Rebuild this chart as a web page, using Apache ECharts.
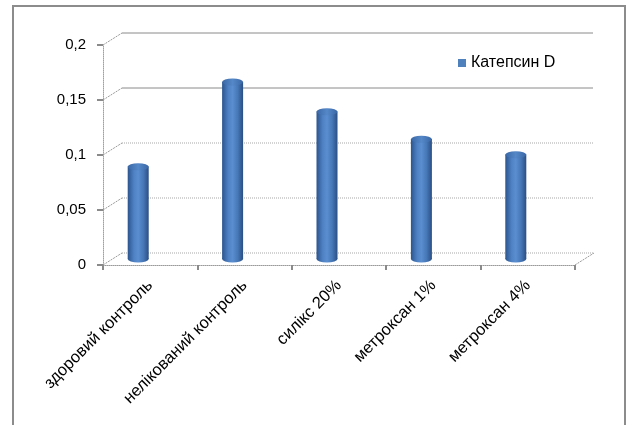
<!DOCTYPE html>
<html><head><meta charset="utf-8">
<script src="https://cdn.jsdelivr.net/npm/echarts@6/dist/echarts.min.js"></script>
<style>html,body{margin:0;padding:0;background:#fff}#c{width:630px;height:425px}</style>
</head><body><div id="c"></div>
<script>
const categories = ['здоровий контроль', 'нелікований контроль', 'силікс 20%', 'метроксан 1%', 'метроксан 4%'];
const values = [0.084, 0.161, 0.134, 0.109, 0.095];
const yTicks = [0, 0.05, 0.1, 0.15, 0.2];
const seriesName = 'Катепсин D';

const FONT = '"Liberation Sans", Arial, sans-serif';
const fmt = v => String(v).replace('.', ',');
const bodyGrad = new echarts.graphic.LinearGradient(0, 0, 1, 0, [
  {offset: 0, color: '#2b558e'},
  {offset: 0.3, color: '#4f82c4'},
  {offset: 0.5, color: '#5a8ed0'},
  {offset: 0.75, color: '#4677b6'},
  {offset: 1, color: '#2a4f84'}
]);
const capGrad = new echarts.graphic.LinearGradient(0, 0, 1, 0, [
  {offset: 0, color: '#3a67a6'},
  {offset: 0.5, color: '#5588c8'},
  {offset: 1, color: '#3a67a6'}
]);

const chart = echarts.init(document.getElementById('c'), null, {renderer: 'canvas'});
const option = {
  animation: false,
  backgroundColor: '#fff',
  graphic: [{
    type: 'rect', silent: true, z: 0,
    shape: {x: 13, y: 6, width: 612, height: 440},
    style: {fill: 'none', stroke: '#8c8c8c', lineWidth: 2}
  }],
  legend: {
    left: 453, top: 50, itemWidth: 8, itemHeight: 8, itemGap: 10,
    data: [{name: seriesName, icon: 'rect', itemStyle: {color: '#4f81bd'}}],
    textStyle: {fontFamily: FONT, fontSize: 16, color: '#000'}
  },
  grid: [
    {left: 122, right: 37, top: 33, bottom: 172},
    {left: 103, right: 55, top: 45, bottom: 160},
    {left: 91, right: 67, top: 39, bottom: 166}
  ],
  xAxis: [
    {gridIndex: 0, type: 'value', min: 0, max: 1, show: false},
    {
      gridIndex: 1, type: 'category', data: categories, boundaryGap: true,
      axisLine: {show: true, lineStyle: {color: '#9a9a9a', type: 'dotted', width: 1}},
      axisTick: {show: true, length: 5, lineStyle: {color: '#8a8a8a', width: 2}},
      axisLabel: {interval: 0, rotate: 45, margin: 18, fontFamily: FONT, fontSize: 16.5, color: '#000'}
    },
    {gridIndex: 1, type: 'value', min: 0, max: 1, show: false, position: 'top'},
    {gridIndex: 2, type: 'category', data: categories, show: false}
  ],
  yAxis: [
    {gridIndex: 0, type: 'value', min: 0, max: 0.2, interval: 0.05, show: false},
    {
      gridIndex: 1, type: 'value', min: 0, max: 0.2, interval: 0.05,
      axisLine: {show: true, lineStyle: {color: '#a0a0a0', type: 'dotted', width: 1}},
      axisTick: {show: true, length: 6, lineStyle: {color: '#8a8a8a', width: 2}},
      axisLabel: {formatter: fmt, margin: 17, fontFamily: FONT, fontSize: 15, color: '#000'},
      splitLine: {show: false}
    },
    {gridIndex: 2, type: 'value', min: 0, max: 0.2, show: false}
  ],
  series: [
    {
      type: 'custom', name: 'wall', xAxisIndex: 0, yAxisIndex: 0, z: 1, silent: true,
      data: yTicks.map(v => [0, v]),
      renderItem: (params, api) => {
        const v = api.value(1);
        const a = api.coord([0, v]);
        const b = api.coord([1, v]);
        const solid = v >= 0.15;
        return {
          type: 'line', shape: {x1: a[0], y1: a[1], x2: b[0], y2: b[1]},
          style: {stroke: solid ? '#8a8a8a' : '#a8a8a8', lineWidth: 1, lineDash: solid ? null : [1, 1]}
        };
      }
    },
    {
      type: 'custom', name: 'depth', xAxisIndex: 2, yAxisIndex: 1, z: 1, silent: true,
      data: yTicks.map(v => [0, v]).concat([[1, 0]]),
      renderItem: (params, api) => {
        const a = api.coord([api.value(0), api.value(1)]);
        return {
          type: 'line', shape: {x1: a[0], y1: a[1], x2: a[0] + 19, y2: a[1] - 12},
          style: {stroke: '#9a9a9a', lineWidth: 1, lineDash: [2, 1]}
        };
      }
    },
    {
      type: 'bar', name: seriesName, xAxisIndex: 3, yAxisIndex: 2, z: 3,
      data: values, barWidth: 21,
      itemStyle: {color: bodyGrad}
    },
    {
      type: 'pictorialBar', name: 'bottom', xAxisIndex: 3, yAxisIndex: 2, z: 2,
      data: values, symbol: 'circle', symbolSize: [21, 7],
      symbolPosition: 'start', symbolOffset: [0, '50%'],
      itemStyle: {color: bodyGrad}
    },
    {
      type: 'pictorialBar', name: 'top', xAxisIndex: 3, yAxisIndex: 2, z: 4,
      data: values, symbol: 'circle', symbolSize: [21, 7],
      symbolPosition: 'end', symbolOffset: [0, '-50%'],
      itemStyle: {color: capGrad, borderColor: '#335d96', borderWidth: 0.6}
    }
  ]
};
chart.setOption(option);
</script>
</body></html>
